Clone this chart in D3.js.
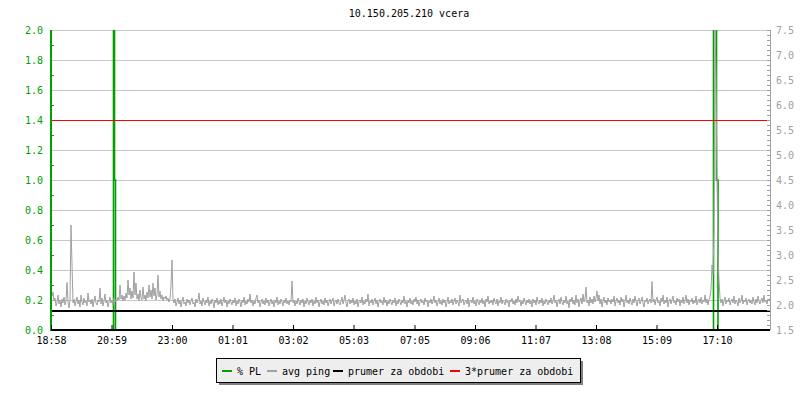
<!DOCTYPE html>
<html>
<head>
<meta charset="utf-8">
<script src="https://cdn.jsdelivr.net/npm/d3@7"></script>
<style>
  body { margin: 0; background: #fff; }
  svg text { font-family: "DejaVu Sans Mono", monospace; font-size: 10px; }
</style>
</head>
<body>
<svg id="chart" width="800" height="400"></svg>
<script>
const title = '10.150.205.210 vcera';
const startTime = '18:58';
const spanMinutes = 1438;
const tickLabels = ['18:58', '20:59', '23:00', '01:01', '03:02', '05:03', '07:05', '09:06', '11:07', '13:08', '15:09', '17:10'];

// avg ping [ms], one sample every 2 minutes from 18:58
const pingStep = 2;
const avgPing = [
  2.30, 2.18, 2.26, 2.08, 2.14, 1.98, 2.06, 2.20, 2.02, 2.10, 1.96, 2.12, 2.04, 2.16, 2.00, 2.08, 2.45, 2.06, 1.94, 2.10,
  3.60, 2.82, 2.04, 2.12, 1.98, 2.08, 2.16, 2.02, 2.10, 1.96, 2.20, 2.06, 2.00, 2.14, 2.04, 2.08, 1.98, 2.24, 2.06, 2.10,
  2.02, 2.12, 1.96, 2.08, 2.18, 2.04, 2.00, 2.10, 2.06, 2.34, 2.02, 2.14, 1.98, 2.08, 2.22, 2.04, 2.10, 1.96, 2.06, 2.16,
  2.04, 2.10, 2.00, 2.14, 2.06, 2.12, 2.08, 2.16, 2.10, 2.40, 2.12, 2.20, 2.08, 2.18, 2.10, 2.24, 2.14, 2.50, 2.20, 2.34,
  2.12, 2.28, 2.14, 2.66, 2.20, 2.44, 2.12, 2.22, 2.08, 2.30, 2.14, 2.10, 2.36, 2.12, 2.20, 2.08, 2.26, 2.14, 2.40, 2.16,
  2.30, 2.12, 2.44, 2.18, 2.34, 2.10, 2.20, 2.60, 2.16, 2.28, 2.12, 2.20, 2.08, 2.16, 2.12, 2.18, 2.10, 2.14, 2.06, 2.12,
  2.40, 2.90, 2.10, 2.04, 2.12, 1.98, 2.06, 2.14, 2.02, 2.10, 1.96, 2.08, 2.16, 2.02, 2.06, 1.98, 2.12, 2.04, 2.10, 2.00,
  2.08, 2.14, 2.02, 2.06, 1.96, 2.12, 2.04, 2.10, 2.24, 2.02, 2.08, 1.98, 2.14, 2.06, 2.00, 2.10, 2.04, 2.16, 1.98, 2.08,
  2.02, 2.12, 2.06, 1.94, 2.10, 2.04, 2.14, 2.00, 2.08, 2.02, 2.12, 1.98, 2.06, 2.16, 2.04, 2.10, 1.96, 2.08, 2.02, 2.12,
  2.06, 2.00, 2.10, 2.04, 2.14, 1.98, 2.08, 2.02, 2.12, 2.06, 1.96, 2.10, 2.04, 2.16, 2.00, 2.08, 2.02, 2.12, 2.06, 2.22,
  2.04, 2.10, 1.98, 2.08, 2.02, 2.14, 2.20, 2.04, 2.10, 1.96, 2.06, 2.12, 2.02, 2.08, 2.00, 2.14, 2.04, 2.10, 1.98, 2.06,
  2.12, 2.02, 2.08, 1.96, 2.10, 2.04, 2.16, 2.00, 2.08, 2.02, 2.12, 2.06, 1.98, 2.10, 2.04, 2.14, 2.02, 2.08, 2.00, 2.10,
  2.06, 2.48, 2.04, 2.10, 1.98, 2.08, 2.02, 2.14, 2.06, 2.00, 2.10, 2.04, 2.12, 1.96, 2.08, 2.02, 2.14, 2.06, 2.00, 2.10,
  2.04, 2.12, 1.98, 2.08, 2.02, 2.16, 2.04, 2.10, 1.96, 2.06, 2.12, 2.02, 2.08, 2.00, 2.14, 2.04, 2.10, 1.98, 2.06, 2.12,
  2.02, 2.08, 2.14, 1.98, 2.06, 2.10, 2.02, 2.12, 2.04, 2.00, 2.08, 2.16, 2.02, 2.10, 2.20, 2.04, 1.96, 2.08, 2.12, 2.02,
  2.10, 2.04, 2.14, 2.00, 2.08, 2.02, 2.12, 1.96, 2.06, 2.10, 2.04, 2.16, 2.00, 2.08, 2.02, 2.12, 2.06, 2.22, 1.98, 2.08,
  2.04, 2.12, 2.00, 2.08, 2.14, 2.02, 2.10, 1.96, 2.06, 2.12, 2.04, 2.08, 2.00, 2.16, 2.04, 2.10, 1.98, 2.08, 2.02, 2.12,
  2.06, 2.00, 2.10, 2.04, 2.14, 1.98, 2.08, 2.02, 2.12, 2.06, 2.00, 2.10, 2.04, 2.18, 2.02, 2.08, 1.96, 2.10, 2.04, 2.14,
  2.02, 2.08, 2.00, 2.12, 2.06, 2.16, 2.02, 2.10, 1.98, 2.06, 2.12, 2.04, 2.08, 2.00, 2.14, 2.06, 2.10, 1.96, 2.08, 2.04,
  2.12, 2.02, 2.08, 2.18, 2.04, 2.10, 1.98, 2.06, 2.14, 2.02, 2.08, 2.00, 2.12, 2.04, 2.10, 1.96, 2.06, 2.16, 2.02, 2.08,
  2.04, 2.12, 2.00, 2.08, 2.14, 2.02, 2.10, 2.06, 1.98, 2.20, 2.04, 2.08, 2.12, 2.00, 2.06, 2.10, 2.02, 2.14, 1.96, 2.08,
  2.10, 2.04, 2.16, 2.02, 2.08, 1.98, 2.12, 2.06, 2.00, 2.10, 2.04, 2.14, 2.02, 2.08, 1.96, 2.12, 2.06, 2.18, 2.02, 2.08,
  2.04, 2.10, 2.00, 2.14, 2.06, 2.02, 2.12, 1.98, 2.08, 2.04, 2.16, 2.02, 2.10, 2.06, 2.00, 2.12, 2.04, 2.08, 1.96, 2.10,
  2.06, 2.14, 2.02, 2.08, 2.00, 2.12, 2.04, 2.18, 2.06, 2.10, 1.98, 2.08, 2.02, 2.14, 2.06, 2.00, 2.10, 2.04, 2.12, 2.02,
  2.08, 1.96, 2.12, 2.04, 2.10, 2.00, 2.16, 2.06, 2.02, 2.10, 2.04, 2.14, 1.98, 2.08, 2.02, 2.12, 2.06, 2.00, 2.10, 2.04,
  2.14, 2.02, 2.08, 2.20, 2.04, 2.10, 1.96, 2.08, 2.12, 2.02, 2.16, 2.06, 2.00, 2.10, 2.04, 2.18, 2.02, 2.08, 1.94, 2.12,
  2.06, 2.16, 2.02, 2.10, 2.00, 2.20, 2.04, 2.12, 1.96, 2.08, 2.14, 2.02, 2.22, 2.06, 2.12, 2.36, 2.04, 2.10, 1.98, 2.16,
  2.04, 2.12, 2.02, 2.18, 2.06, 2.14, 2.28, 2.08, 2.20, 2.02, 2.12, 1.96, 2.08, 2.16, 2.04, 2.10, 2.00, 2.14, 2.06, 2.10,
  2.02, 2.12, 2.06, 2.18, 1.98, 2.08, 2.14, 2.04, 2.10, 2.00, 2.16, 2.06, 2.12, 1.96, 2.08, 2.20, 2.04, 2.10, 2.02, 2.14,
  2.06, 2.00, 2.12, 2.04, 2.18, 2.08, 1.98, 2.10, 2.14, 2.02, 2.08, 2.16, 2.04, 1.96, 2.10, 2.06, 2.14, 2.02, 2.08, 2.12,
  2.04, 2.47, 2.06, 2.12, 2.00, 2.10, 2.16, 2.04, 2.08, 1.98, 2.14, 2.06, 2.20, 2.02, 2.10, 2.04, 2.16, 1.96, 2.08, 2.12,
  2.02, 2.10, 2.18, 2.04, 2.08, 2.00, 2.14, 2.06, 2.12, 1.98, 2.10, 2.04, 2.16, 2.02, 2.08, 2.20, 2.04, 2.12, 2.00, 2.10,
  2.06, 2.14, 2.02, 2.10, 2.04, 2.18, 2.00, 2.08, 2.12, 2.04, 2.16, 2.02, 2.10, 2.06, 2.20, 2.04, 2.12, 2.00, 2.10, 2.16,
  2.30, 2.80, 2.60, 3.50, 7.60, 6.50, 4.60, 3.00, 2.50, 2.14, 2.04, 2.12, 1.98, 2.08, 2.16, 2.02, 2.10, 2.06, 2.14, 2.00,
  2.08, 2.12, 2.04, 2.18, 2.02, 2.10, 2.06, 1.98, 2.14, 2.04, 2.08, 2.20, 2.02, 2.10, 2.06, 2.14, 2.00, 2.08, 2.12, 2.04,
  2.10, 2.02, 2.16, 2.06, 2.00, 2.12, 2.04, 2.18, 2.08, 2.02, 2.10, 2.14, 2.04, 2.20, 2.06, 2.10, 2.02, 2.12, 2.08, 2.14
];

// packet loss [%], minutes after 18:58 (zero elsewhere)
const plMinutes = [0, 124, 126, 128, 130, 1320, 1324, 1326, 1330, 1332, 1336, 1438];
const plValues  = [0, 0,   5,   1.0, 0,   0,    0,    5,    5,    1.0,  0,    0];

const prumer = 1.9;

const legendItems = [
  { label: '% PL', color: '#00a000' },
  { label: 'avg ping', color: '#a0a0a0' },
  { label: 'prumer za obdobi', color: '#000' },
  { label: '3*prumer za obdobi', color: '#ff0000' }
];

const GREEN = '#00a000', GREY = '#a0a0a0', GRID = '#c8c8c8';
const pLeft = 51, pRight = 770, pTop = 30, pBottom = 330;

const svg = d3.select('#chart');
const parse = d3.timeParse('%Y-%m-%d %H:%M');
const t0 = parse('2024-01-01 ' + startTime);
const addMin = m => new Date(t0.getTime() + m * 60000);

const x = d3.scaleTime().domain([t0, addMin(spanMinutes)]).range([pLeft, pRight]);
const yL = d3.scaleLinear().domain([0, 2]).range([pBottom, pTop]);
const yR = d3.scaleLinear().domain([1.5, 7.5]).range([pBottom, pTop]);

const tickDates = tickLabels.map(s => {
  let d = parse('2024-01-01 ' + s);
  if (d < t0) d = d3.timeDay.offset(d, 1);
  return d;
});

svg.append('defs').append('clipPath').attr('id', 'plot')
  .append('rect').attr('x', pLeft).attr('y', pTop).attr('width', pRight - pLeft).attr('height', pBottom - pTop);

// title
svg.append('text').attr('x', 409).attr('y', 17).attr('text-anchor', 'middle').text(title);

// grid
svg.append('g').selectAll('line')
  .data(d3.range(0.2, 2.01, 0.2))
  .enter().append('line')
  .attr('x1', pLeft).attr('x2', pRight)
  .attr('y1', d => Math.round(yL(d)) + 0.5).attr('y2', d => Math.round(yL(d)) + 0.5)
  .attr('stroke', GRID);

const plot = svg.append('g').attr('clip-path', 'url(#plot)');

// packet loss
plot.append('path')
  .datum(plValues)
  .attr('fill', 'none').attr('stroke', GREEN).attr('stroke-width', 1.6)
  .attr('d', d3.line().curve(d3.curveStep).x((d, i) => x(addMin(plMinutes[i]))).y(d => yL(d)));

// avg ping
plot.append('path')
  .datum(avgPing)
  .attr('fill', 'none').attr('stroke', GREY).attr('stroke-width', 1)
  .attr('d', d3.line().x((d, i) => x(addMin(i * pingStep))).y(d => yR(d)));

// average + 3*average
plot.append('line')
  .attr('x1', pLeft).attr('x2', pRight).attr('y1', yR(prumer) + 1).attr('y2', yR(prumer) + 1)
  .attr('stroke', '#000').attr('stroke-width', 2);
plot.append('line')
  .attr('x1', pLeft).attr('x2', pRight)
  .attr('y1', Math.round(yR(3 * prumer)) + 0.5).attr('y2', Math.round(yR(3 * prumer)) + 0.5)
  .attr('stroke', '#ff0000').attr('stroke-width', 1);

// left axis (green)
const axL = svg.append('g').attr('transform', `translate(${pLeft},0)`)
  .call(d3.axisLeft(yL).tickValues(d3.range(0, 2.01, 0.2)).tickFormat(d3.format('.1f')).tickSize(0).tickPadding(8));
axL.select('.domain').remove();
axL.selectAll('text').attr('fill', GREEN).style('font-size', '10px').style('font-family', 'DejaVu Sans Mono');
svg.append('g').attr('transform', `translate(${pLeft},0)`)
  .call(d3.axisRight(yL).tickValues(d3.range(0.1, 2, 0.2)).tickFormat('').tickSize(3))
  .call(g => g.select('.domain').remove())
  .selectAll('line').attr('stroke', GREEN);
svg.append('line').attr('x1', pLeft).attr('x2', pLeft).attr('y1', pTop).attr('y2', pBottom + 1)
  .attr('stroke', GREEN).attr('stroke-width', 2);

// right axis (grey)
const axR = svg.append('g').attr('transform', `translate(${pRight},0)`)
  .call(d3.axisRight(yR).tickValues(d3.range(1.5, 7.51, 0.5)).tickFormat(d3.format('.1f')).tickSize(0).tickPadding(6));
axR.select('.domain').remove();
axR.selectAll('text').attr('fill', GREY).style('font-size', '10px').style('font-family', 'DejaVu Sans Mono');
svg.append('g').attr('transform', `translate(${pRight},0)`)
  .call(d3.axisLeft(yR).ticks(60).tickFormat('').tickSize(3))
  .call(g => g.select('.domain').remove())
  .selectAll('line').attr('stroke', GREY);
svg.append('line').attr('x1', pRight + 0.5).attr('x2', pRight + 0.5).attr('y1', pTop).attr('y2', pBottom)
  .attr('stroke', GREY);

// time axis
const axB = svg.append('g').attr('transform', `translate(0,${pBottom})`)
  .call(d3.axisBottom(x).tickValues(tickDates).tickFormat(d3.timeFormat('%H:%M'))
    .tickSizeInner(-5).tickSizeOuter(0).tickPadding(7));
axB.select('.domain').remove();
axB.selectAll('text').attr('fill', '#000').style('font-size', '10px').style('font-family', 'DejaVu Sans Mono');
axB.selectAll('line').attr('stroke', '#000');
svg.append('line').attr('x1', pLeft).attr('x2', pRight).attr('y1', pBottom).attr('y2', pBottom)
  .attr('stroke', '#000').attr('stroke-width', 2);

// legend
const lg = svg.append('g').attr('transform', 'translate(216,358)');
lg.append('rect').attr('x', 3).attr('y', 3).attr('width', 364).attr('height', 24).attr('fill', '#808080');
lg.append('rect').attr('x', 0.5).attr('y', 0.5).attr('width', 364).attr('height', 24)
  .attr('fill', '#eeeeee').attr('stroke', '#000');
const itemX = [6, 51, 117, 234];
const item = lg.selectAll('.item').data(legendItems).enter().append('g')
  .attr('transform', (d, i) => `translate(${itemX[i]},0)`);
item.append('line').attr('x1', 0).attr('x2', 10).attr('y1', 13).attr('y2', 13)
  .attr('stroke', d => d.color).attr('stroke-width', 2);
item.append('text').attr('x', 15).attr('y', 16.5).text(d => d.label);
</script>
</body>
</html>
